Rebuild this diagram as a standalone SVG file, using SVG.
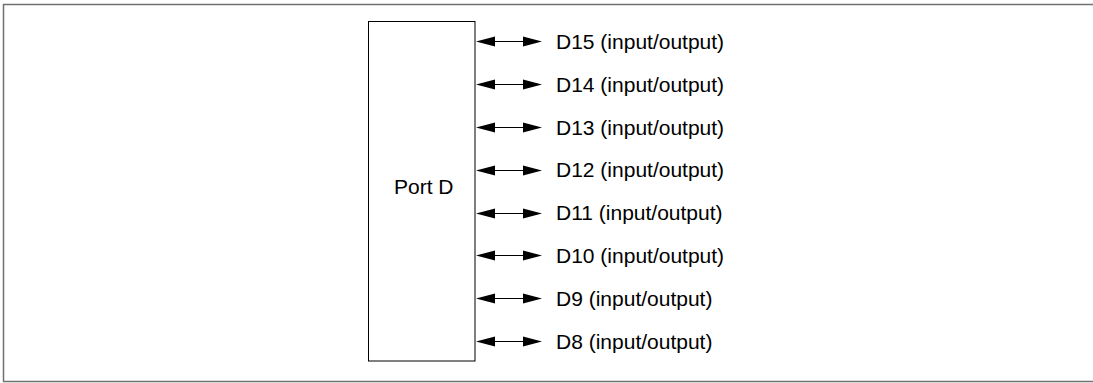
<svg xmlns="http://www.w3.org/2000/svg" width="1093" height="383" viewBox="0 0 1093 383">
<style>
.lbl{font-family:"Liberation Sans",Arial,sans-serif;font-size:21px;fill:#000}
.cn line{stroke:#000;stroke-width:1;fill:none}
.cn use{fill:#000}
</style>
<defs>
<path id="hr" d="M-19,-5 L0,0 L-19,5 Z"/>
<path id="hl" d="M19,-5 L0,0 L19,5 Z"/>
</defs>
<rect x="0" y="0" width="1093" height="383" fill="#fff"/>
<rect id="frame" x="3.5" y="4.5" width="1100" height="377" fill="none" stroke="#707070" stroke-width="1.5"/>
<g id="portD">
<rect x="368.5" y="21.5" width="106.5" height="339.5" fill="#fff" stroke="#000" stroke-width="1"/>
<text class="lbl" x="394" y="193.5">Port D</text>
</g>
<g id="connectors" class="cn">
<g transform="translate(0,41.5)"><line x1="480" y1="0" x2="530" y2="0"/><use href="#hl" x="476"/><use href="#hr" x="542"/></g>
<g transform="translate(0,84.5)"><line x1="480" y1="0" x2="530" y2="0"/><use href="#hl" x="476"/><use href="#hr" x="542"/></g>
<g transform="translate(0,127.5)"><line x1="480" y1="0" x2="530" y2="0"/><use href="#hl" x="476"/><use href="#hr" x="542"/></g>
<g transform="translate(0,170.5)"><line x1="480" y1="0" x2="530" y2="0"/><use href="#hl" x="476"/><use href="#hr" x="542"/></g>
<g transform="translate(0,213.5)"><line x1="480" y1="0" x2="530" y2="0"/><use href="#hl" x="476"/><use href="#hr" x="542"/></g>
<g transform="translate(0,255.5)"><line x1="480" y1="0" x2="530" y2="0"/><use href="#hl" x="476"/><use href="#hr" x="542"/></g>
<g transform="translate(0,298.5)"><line x1="480" y1="0" x2="530" y2="0"/><use href="#hl" x="476"/><use href="#hr" x="542"/></g>
<g transform="translate(0,341.5)"><line x1="480" y1="0" x2="530" y2="0"/><use href="#hl" x="476"/><use href="#hr" x="542"/></g>
</g>
<g id="D15"><text class="lbl" x="556" y="48.5">D15 (input/output)</text></g>
<g id="D14"><text class="lbl" x="556" y="91.5">D14 (input/output)</text></g>
<g id="D13"><text class="lbl" x="556" y="134.5">D13 (input/output)</text></g>
<g id="D12"><text class="lbl" x="556" y="177">D12 (input/output)</text></g>
<g id="D11"><text class="lbl" x="556" y="220">D11 (input/output)</text></g>
<g id="D10"><text class="lbl" x="556" y="262.5">D10 (input/output)</text></g>
<g id="D9"><text class="lbl" x="556" y="305.5">D9 (input/output)</text></g>
<g id="D8"><text class="lbl" x="556" y="348.5">D8 (input/output)</text></g>
</svg>
